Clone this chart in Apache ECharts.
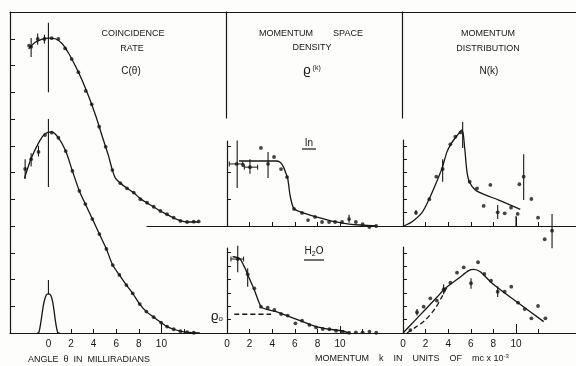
<!DOCTYPE html>
<html>
<head>
<meta charset="utf-8">
<script src="https://cdn.jsdelivr.net/npm/echarts@6/dist/echarts.min.js"></script>
<style>
  html, body { margin: 0; padding: 0; background: #fdfdfc; }
  #chart { width: 576px; height: 366px; }
</style>
</head>
<body>
<div id="chart"></div>
<script>
// tick labels
var thetaTicks = [0, 2, 4, 6, 8, 10];
var kTicks = [0, 2, 4, 6, 8, 10];

// ---- coincidence rate C(theta); In curve sits 4 units up on the shared axis ----
var cInDots = [[-1.71, 10.74], [-1.53, 10.7], [-0.95, 10.99], [-0.35, 10.99], [0.29, 11.02], [0.88, 10.99],
  [1.48, 10.64], [2.06, 10.24], [2.65, 9.75], [3.3, 9.05], [3.83, 8.55], [4.49, 7.71], [5.07, 6.96],
  [5.66, 6.09], [6.37, 5.6], [6.96, 5.41], [7.55, 5.25], [8.14, 5.0], [8.73, 4.87], [9.32, 4.72],
  [9.91, 4.56], [10.5, 4.44], [11.09, 4.31], [11.68, 4.19], [12.27, 4.15], [12.86, 4.16], [13.3, 4.17]];
var cInFit = [[-1.75, 10.62], [-1.2, 10.86], [-0.6, 10.98], [0, 11.02], [0.6, 11.0], [1.2, 10.82],
  [1.8, 10.45], [2.4, 9.97], [3.0, 9.43], [3.6, 8.8], [4.2, 8.1], [4.8, 7.3], [5.3, 6.65], [5.66, 6.09],
  [5.93, 5.79], [6.37, 5.6], [7.0, 5.4], [7.55, 5.24], [8.14, 5.02], [8.73, 4.86], [9.32, 4.71],
  [9.91, 4.56], [10.5, 4.43], [11.09, 4.3], [11.68, 4.2], [12.27, 4.15], [13.3, 4.15]];
var cInErr = [[-1.53, 10.32, 11.03], [-0.95, 10.78, 11.2], [-0.35, 10.82, 11.15]];

var cH2oDots = [[-2.06, 6.13], [-1.53, 6.5], [-0.88, 6.77], [-0.3, 7.4], [0.3, 7.49], [0.88, 7.3],
  [1.53, 6.8], [2.12, 6.06], [2.74, 5.31], [3.27, 4.82], [3.89, 4.26], [4.51, 3.7], [5.13, 3.14],
  [5.69, 2.54], [6.28, 2.17], [6.9, 1.79], [7.46, 1.48], [8.08, 1.08], [8.67, 0.8], [9.32, 0.59],
  [9.97, 0.39], [10.5, 0.24], [11.09, 0.14], [11.68, 0.07], [12.27, 0.03], [12.86, 0.01]];
var cH2oFit = [[-2.12, 5.78], [-1.53, 6.52], [-0.88, 7.1], [-0.3, 7.45], [0.3, 7.52], [0.88, 7.3],
  [1.53, 6.8], [2.12, 6.06], [2.74, 5.31], [3.27, 4.82], [3.89, 4.26], [4.51, 3.7], [5.13, 3.14],
  [5.69, 2.54], [6.28, 2.17], [6.9, 1.79], [7.46, 1.48], [8.08, 1.08], [8.67, 0.8], [9.32, 0.59],
  [9.97, 0.39], [10.5, 0.24], [11.09, 0.14], [11.68, 0.07], [12.27, 0.03], [13.4, 0]];
var cH2oErr = [[-2.06, 5.76, 6.5], [-1.53, 6.22, 6.72], [-0.88, 6.6, 7.0]];

var resolution = [[-1.0, 0], [-0.85, 0.02], [-0.65, 0.45], [-0.47, 0.98], [-0.3, 1.3], [-0.1, 1.45],
  [0.1, 1.45], [0.3, 1.3], [0.45, 0.98], [0.62, 0.45], [0.82, 0.02], [1.0, 0]];
var zeroMarks = [[0, 9.0, 11.6], [0, 5.46, 8.0], [0, 1.45, 1.98]];

// ---- momentum space density rho(k) ----
var rhoInDots = [[0.85, 2.32], [1.42, 2.28], [2.03, 2.2], [3.0, 2.92], [3.63, 2.32], [4.16, 2.58],
  [4.78, 2.13], [5.31, 1.83], [5.93, 0.64], [6.64, 0.49], [7.17, 0.22], [7.79, 0.34], [8.41, 0.15],
  [9.03, 0.15], [9.56, 0.15], [10.18, 0.15], [10.8, 0.26], [11.4, 0.15], [12.0, 0.07], [12.6, -0.04], [13.2, 0]];
var rhoInFit = [[1.06, 2.43], [2.5, 2.43], [4.34, 2.43], [4.7, 2.38], [4.98, 2.22], [5.2, 1.98],
  [5.37, 1.78], [5.6, 1.1], [5.9, 0.66], [6.3, 0.56], [6.73, 0.49], [7.88, 0.34], [9.65, 0.15],
  [10.8, 0.07], [13.2, 0]];
var rhoInVErr = [[0.9, 1.42, 3.2], [2.03, 1.95, 2.5], [3.63, 1.79, 2.77], [10.8, 0.12, 0.42]];
var rhoInHErr = [[0.2, 1.39, 2.32], [1.53, 2.71, 2.2]];

var rhoH2oDots = [[0.95, 5.53], [1.83, 4.39], [2.42, 3.34], [3.0, 1.97], [3.6, 1.89], [4.19, 1.72],
  [4.78, 1.42], [5.37, 1.3], [6.05, 0.72], [6.64, 0.92], [7.29, 0.6], [7.88, 0.42], [8.47, 0.3],
  [9.05, 0.28], [9.65, 0.17], [10.24, 0.1], [10.8, 0.02], [11.4, 0.05], [12.0, 0.05], [12.6, 0.1], [13.2, 0.02]];
var rhoH2oFit = [[0.5, 5.7], [1.09, 5.58], [1.53, 4.96], [1.97, 4.09], [2.42, 3.21], [2.86, 2.22],
  [3.1, 1.89], [4.34, 1.59], [5.51, 1.22], [6.7, 0.85], [7.88, 0.47], [9.05, 0.28], [10.24, 0.15], [10.8, 0]];
var rhoH2oVErr = [[0.95, 4.54, 6.53], [1.83, 3.46, 4.84]];
var rhoH2oHErr = [[0.35, 1.47, 5.53]];
var rho0 = [[0.65, 1.4], [3.9, 1.4]];

// ---- momentum distribution N(k) ----
var nInDots = [[1.15, 1.0], [2.33, 2.0], [2.95, 3.69], [3.51, 4.26], [4.19, 6.11], [4.63, 6.68],
  [5.1, 7.0], [5.9, 3.31], [6.55, 2.82], [7.14, 1.5], [7.73, 3.07], [8.38, 1.02], [9.0, 0.95],
  [9.56, 1.37], [10.15, 0.9], [10.3, 3.12], [10.68, 3.69], [11.36, 2.02], [11.95, 0.62],
  [12.54, -0.99], [13.19, -0.35]];
var nInFit = [[0.06, 0], [0.8, 0.32], [1.68, 1.0], [2.27, 1.94], [2.86, 3.07], [3.45, 4.31],
  [3.9, 5.56], [4.28, 6.18], [4.78, 6.75], [5.22, 7.18], [5.46, 5.81], [5.66, 4.06], [5.87, 3.31],
  [6.4, 2.69], [7.29, 2.32], [8.47, 1.94], [10.38, 1.25]];
var nInVErr = [[1.15, 0.85, 1.2], [3.51, 3.3, 5.0], [5.28, 5.83, 7.78], [8.38, 0.52, 1.57],
  [10.0, 0, 0.75], [10.68, 1.94, 5.36], [13.19, -1.67, 0.9]];

var nH2oDots = [[0.65, 0.22], [1.24, 1.55], [1.83, 1.97], [2.42, 2.59], [3.0, 2.42], [3.6, 3.27],
  [4.19, 3.76], [4.78, 4.51], [5.37, 4.91], [6.02, 3.72], [6.64, 5.29], [7.2, 4.41], [7.79, 3.91],
  [8.38, 3.09], [9.0, 3.09], [9.58, 3.46], [10.18, 2.27], [10.77, 1.79], [11.36, 1.1], [11.95, 2.02], [12.6, 1.1]];
var nH2oFit = [[0, 0], [1.0, 0.89], [2.0, 1.78], [3.0, 2.67], [3.75, 3.34], [4.93, 4.09],
  [5.81, 4.66], [6.25, 4.76], [6.84, 4.58], [7.88, 3.72], [10.24, 2.22], [12.45, 0.85]];
var nH2oDash = [[0.35, 0], [1.09, 0.42], [1.97, 0.97], [2.86, 1.85], [3.45, 2.72], [3.9, 3.42]];
var nH2oVErr = [[1.24, 1.3, 1.8], [3.6, 2.9, 3.65], [6.02, 3.3, 4.1], [8.38, 2.7, 3.5]];

var ink = '#161616';
var fam = '"Liberation Sans", Arial, sans-serif';

function vBars (params, api) {
  var a = api.coord([api.value(0), api.value(1)]);
  var b = api.coord([api.value(0), api.value(2)]);
  return { type: 'line', shape: { x1: a[0], y1: a[1], x2: b[0], y2: b[1] }, style: { stroke: ink, lineWidth: 1.1 } };
}
function hBars (params, api) {
  var a = api.coord([api.value(0), api.value(2)]);
  var b = api.coord([api.value(1), api.value(2)]);
  return {
    type: 'group',
    children: [
      { type: 'line', shape: { x1: a[0], y1: a[1], x2: b[0], y2: b[1] }, style: { stroke: ink, lineWidth: 1 } },
      { type: 'line', shape: { x1: a[0], y1: a[1] - 2.5, x2: a[0], y2: a[1] + 2.5 }, style: { stroke: ink, lineWidth: 1 } },
      { type: 'line', shape: { x1: b[0], y1: b[1] - 2.5, x2: b[0], y2: b[1] + 2.5 }, style: { stroke: ink, lineWidth: 1 } }
    ]
  };
}

function fit (data, ai, dashed) {
  return {
    type: 'line', xAxisIndex: ai, yAxisIndex: yOf[ai], data: data, showSymbol: false,
    smooth: 0.3, clip: false, silent: true,
    lineStyle: { color: ink, width: 1.3, type: dashed ? [5, 3] : 'solid' }
  };
}
function dots (data, ai) {
  return {
    type: 'scatter', xAxisIndex: ai, yAxisIndex: yOf[ai], data: data, symbolSize: 3.8,
    clip: false, silent: true, itemStyle: { color: ink }
  };
}
function bars (data, ai, horiz) {
  return {
    type: 'custom', xAxisIndex: ai, yAxisIndex: yOf[ai], data: data, silent: true,
    renderItem: horiz ? hBars : vBars,
    encode: horiz ? { x: [0, 1], y: 2 } : { x: 0, y: [1, 2] }
  };
}

// x axis index -> y axis index
var yOf = { 0: 0, 2: 1, 3: 2, 4: 3, 5: 4 };

function xAx (grid, min, max, extra) {
  var a = {
    type: 'value', gridIndex: grid, min: min, max: max, position: 'bottom',
    axisLine: { show: true, onZero: false, lineStyle: { color: ink, width: 1.2 } },
    axisTick: { show: false }, axisLabel: { show: false }, splitLine: { show: false }
  };
  return Object.assign(a, extra || {});
}
function yAx (grid, max, ticks, extra) {
  var a = {
    type: 'value', gridIndex: grid, min: 0, max: max,
    axisLine: { show: true, onZero: false, lineStyle: { color: ink, width: 1.2 } },
    axisTick: ticks ? { show: true, inside: true, length: 4, customValues: ticks, lineStyle: { color: ink } } : { show: false },
    axisLabel: { show: false }, splitLine: { show: false }
  };
  return Object.assign(a, extra || {});
}
function ticksAt (vals, len) {
  return { show: true, inside: true, length: len, customValues: vals, lineStyle: { color: ink } };
}
function labelsAt (vals) {
  return { show: true, customValues: vals, margin: 6, color: ink, fontSize: 10, fontFamily: fam };
}
var bare = { show: false };

var chart = echarts.init(document.getElementById('chart'));
chart.setOption({
  animation: false,
  backgroundColor: '#fdfdfc',
  grid: [
    { left: 10, top: 12, width: 566, height: 321, outerBoundsMode: 'none' },
    { left: 147, top: 141, width: 429, height: 85, outerBoundsMode: 'none' },
    { left: 403, top: 140, width: 173, height: 86, outerBoundsMode: 'none' },
    { left: 227, top: 248, width: 163, height: 85, outerBoundsMode: 'none' },
    { left: 403, top: 247, width: 173, height: 86, outerBoundsMode: 'none' },
    { left: 226, top: 12, width: 20, height: 106, outerBoundsMode: 'none' },
    { left: 402, top: 12, width: 20, height: 106, outerBoundsMode: 'none' }
  ],
  xAxis: [
    xAx(0, -3.4, 46.69, { axisTick: ticksAt([2, 4, 6, 8, 12], 4), axisLabel: labelsAt(thetaTicks) }),
    xAx(0, -3.4, 46.69, { position: 'top' }),
    xAx(1, -7.08, 30.88, { axisTick: ticksAt([2, 4, 6, 8, 10], 4) }),
    xAx(2, 0, 15.31, { axisTick: ticksAt([2, 4, 6, 8, 12], 4) }),
    xAx(3, 0, 14.42, { axisTick: ticksAt([2, 4, 6, 8, 12], 4), axisLabel: labelsAt(kTicks) }),
    xAx(4, 0, 15.31, { axisTick: ticksAt([2, 4, 6, 8, 12], 4), axisLabel: labelsAt(kTicks) }),
    xAx(5, 0, 1, { show: false }),
    xAx(6, 0, 1, { show: false }),
    // longer marks at 10
    xAx(0, -3.4, 46.69, { axisLine: bare, axisTick: ticksAt([10], 10) }),
    xAx(2, 0, 15.31, { axisLine: bare, axisTick: ticksAt([10], 9) }),
    xAx(3, 0, 14.42, { axisLine: bare, axisTick: ticksAt([10], 7) }),
    xAx(4, 0, 15.31, { axisLine: bare, axisTick: ticksAt([10], 9) })
  ],
  yAxis: [
    yAx(0, 12, null, { axisTick: ticksAt([1, 2, 3, 4, 5, 6, 7, 8, 9, 10, 11], 5) }),
    yAx(1, 3.178, [1, 2, 3], { axisLine: { show: true, onZero: true, lineStyle: { color: ink, width: 1.2 } } }),
    yAx(2, 6.43, [1, 2, 3, 4, 5, 6]),
    yAx(3, 6.355, [1, 2, 3, 4, 5, 6]),
    yAx(4, 6.43, [1, 2, 3, 4, 5, 6]),
    yAx(5, 1, null),
    yAx(6, 1, null)
  ],
  series: [
    fit(cInFit, 0), dots(cInDots, 0), bars(cInErr, 0),
    fit(cH2oFit, 0), dots(cH2oDots, 0), bars(cH2oErr, 0),
    fit(resolution, 0), bars(zeroMarks, 0),
    fit(rhoInFit, 2), dots(rhoInDots, 2), bars(rhoInVErr, 2), bars(rhoInHErr, 2, true),
    fit(rhoH2oFit, 4), fit(rho0, 4, true), dots(rhoH2oDots, 4), bars(rhoH2oVErr, 4), bars(rhoH2oHErr, 4, true),
    fit(nInFit, 3), dots(nInDots, 3), bars(nInVErr, 3),
    fit(nH2oFit, 5), fit(nH2oDash, 5, true), dots(nH2oDots, 5), bars(nH2oVErr, 5)
  ],
  graphic: [
    txt('COINCIDENCE', 133, 34), txt('RATE', 132, 49), txt('C(θ)', 131, 71, 10),
    txt('MOMENTUM        SPACE', 311, 34), txt('DENSITY', 312, 48),
    { type: 'text', x: 312, y: 70, style: { text: '{r|ϱ}{k| (k)}', align: 'center', verticalAlign: 'middle', fill: ink,
      rich: { r: { fontSize: 13, fontFamily: fam, fill: ink }, k: { fontSize: 7, fontFamily: fam, fill: ink, padding: [0, 0, 3, 0] } } } },
    txt('MOMENTUM', 488, 34), txt('DISTRIBUTION', 488, 49), txt('N(k)', 489, 71, 10),
    txt('In', 309, 143, 10),
    { type: 'line', shape: { x1: 302, y1: 149, x2: 316, y2: 149 }, style: { stroke: ink, lineWidth: 1.2 } },
    { type: 'text', x: 314, y: 251, style: { text: '{a|H}{s|2}{a|O}', align: 'center', verticalAlign: 'middle', fill: ink,
      rich: { a: { fontSize: 10, fontFamily: fam, fill: ink }, s: { fontSize: 7, fontFamily: fam, fill: ink, padding: [6, 0, 0, 0] } } } },
    { type: 'line', shape: { x1: 304, y1: 260, x2: 324, y2: 260 }, style: { stroke: ink, lineWidth: 1.2 } },
    { type: 'text', x: 217, y: 316, style: { text: '{r|ϱ}{s|o}', align: 'center', verticalAlign: 'middle', fill: ink,
      rich: { r: { fontSize: 13, fontFamily: fam, fill: ink }, s: { fontSize: 8, fontFamily: fam, fill: ink, padding: [5, 0, 0, 0] } } } },
    { type: 'text', x: 28, y: 360, style: { text: 'ANGLE  θ  IN  MILLIRADIANS', align: 'left', verticalAlign: 'middle', fill: ink, font: '9px ' + fam } },
    { type: 'text', x: 315, y: 359, style: { text: '{a|MOMENTUM    k    IN    UNITS    OF    mc x 10}{s|-3}', align: 'left', verticalAlign: 'middle', fill: ink,
      rich: { a: { fontSize: 9, fontFamily: fam, fill: ink }, s: { fontSize: 6, fontFamily: fam, fill: ink, padding: [0, 0, 5, 0] } } } }
  ]
});

function txt (s, x, y, size) {
  return { type: 'text', x: x, y: y, style: { text: s, align: 'center', verticalAlign: 'middle', fill: ink, font: (size || 9) + 'px ' + fam } };
}
</script>
</body>
</html>
